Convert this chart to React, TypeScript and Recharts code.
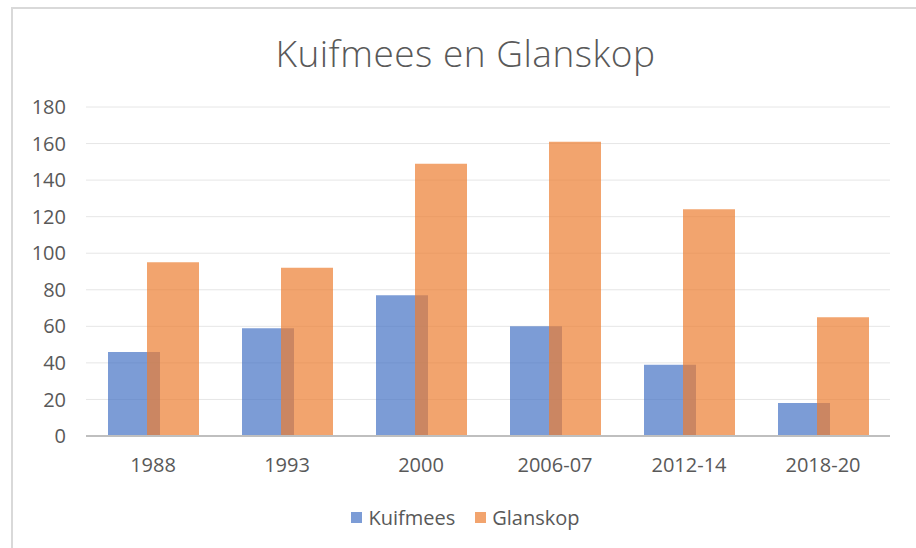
import React from "react";
import {
  BarChart,
  Bar,
  XAxis,
  YAxis,
  CartesianGrid,
  Legend,
} from "recharts";

const periods = ["1988", "1993", "2000", "2006-07", "2012-14", "2018-20"];
const kuifmees = [46, 59, 77, 60, 39, 18];
const glanskop = [95, 92, 149, 161, 124, 65];
const yTicks = [0, 20, 40, 60, 80, 100, 120, 140, 160, 180];

const chartData = periods.map((period, i) => ({
  period,
  Kuifmees: kuifmees[i],
  Glanskop: glanskop[i],
}));

const FONT = "'Open Sans', sans-serif";
const TEXT = "#595959";
const SERIES = [
  { key: "Kuifmees", color: "#4472C4" },
  { key: "Glanskop", color: "#ED7D31" },
];

function LegendContent() {
  return (
    <div
      style={{
        height: 24,
        display: "flex",
        justifyContent: "center",
        alignItems: "center",
        gap: 20,
        fontSize: 20,
        color: TEXT,
      }}
    >
      {SERIES.map((s) => (
        <div key={s.key} style={{ display: "flex", alignItems: "center", gap: 6 }}>
          <span
            style={{
              width: 11,
              height: 11,
              background: s.color,
              opacity: 0.7,
              display: "inline-block",
            }}
          />
          <span>{s.key}</span>
        </div>
      ))}
    </div>
  );
}

export default function App() {
  return (
    <div
      style={{
        position: "absolute",
        left: 11,
        top: 7,
        width: 910,
        height: 545,
        border: "2px solid #d9d9d9",
        background: "#fff",
        fontFamily: FONT,
        overflow: "hidden",
      }}
    >
      <div
        style={{
          position: "absolute",
          left: 0,
          width: 905,
          top: 18,
          textAlign: "center",
          fontSize: 37,
          fontWeight: 300,
          color: TEXT,
          letterSpacing: 0.5,
        }}
      >
        Kuifmees en Glanskop
      </div>
      <BarChart
        width={905}
        height={540}
        data={chartData}
        margin={{ top: 98, right: 28, bottom: 49, left: 0 }}
        barSize={52}
        barGap={-13}
      >
        <CartesianGrid vertical={false} stroke="#e6e6e6" />
        <XAxis
          dataKey="period"
          tick={{ fill: TEXT, fontSize: 20 }}
          tickLine={false}
          axisLine={{ stroke: "#bfbfbf", strokeWidth: 2 }}
          tickMargin={16}
          height={40}
        />
        <YAxis
          domain={[0, 180]}
          ticks={yTicks}
          tick={{ fill: TEXT, fontSize: 20 }}
          tickLine={false}
          axisLine={false}
          width={73}
          tickMargin={14}
        />
        <Legend
          content={<LegendContent />}
          wrapperStyle={{ top: 496, left: 0, width: 905 }}
        />
        <Bar
          dataKey="Kuifmees"
          fill="#4472C4"
          fillOpacity={0.7}
          isAnimationActive={false}
        />
        <Bar
          dataKey="Glanskop"
          fill="#ED7D31"
          fillOpacity={0.7}
          isAnimationActive={false}
        />
      </BarChart>
    </div>
  );
}
